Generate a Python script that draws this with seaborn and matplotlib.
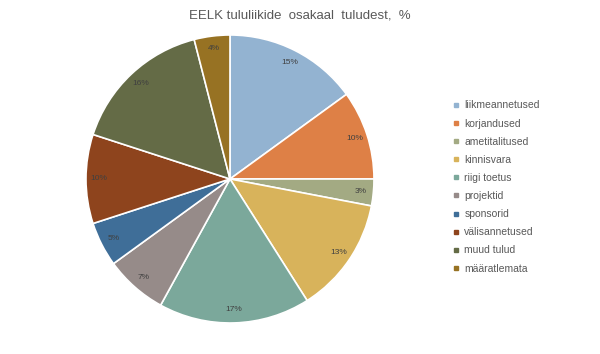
import matplotlib
matplotlib.use('Agg')
import matplotlib.pyplot as plt
from matplotlib.lines import Line2D
import seaborn as sns

# ── Andmed ──────────────────────────────────────────────────────────────────
liigid = ['liikmeannetused', 'korjandused', 'ametitalitused', 'kinnisvara',
          'riigi toetus', 'projektid', 'sponsorid', 'välisannetused',
          'muud tulud', 'määratlemata']
osakaal = [15, 10, 3, 13, 17, 7, 5, 10, 16, 4]
varvid = ['#93B3D1', '#DE8046', '#A3AA83', '#D8B35B', '#7BA89B',
          '#968B89', '#3F6E98', '#8E441D', '#646B46', '#977223']

sns.set_theme(style='white')
plt.rcParams['font.family'] = ['Liberation Sans', 'DejaVu Sans']
palett = sns.color_palette(varvid)

TEKST = '#595959'

fig = plt.figure(figsize=(6.0, 3.54), dpi=100)
fig.patch.set_facecolor('white')

ax = fig.add_axes([0.1433, 0.0876, 0.48, 0.8136])
wedges, texts, autotexts = ax.pie(
    osakaal, colors=palett, startangle=90, counterclock=False,
    autopct='%1.0f%%', pctdistance=0.91,
    wedgeprops=dict(edgecolor='white', linewidth=1.2))
for at in autotexts:
    at.set_fontsize(6); at.set_color('#404040')
ax.set_xlim(-1.0, 1.0); ax.set_ylim(-1.0, 1.0)
ax.set_aspect('equal')

fig.text(0.5, 0.955, 'EELK tululiikide  osakaal  tuludest,  %',
         ha='center', va='center', fontsize=9.5, color=TEKST)

handles = [Line2D([], [], marker='s', linestyle='none', markersize=3.2,
                  markerfacecolor=c, markeredgecolor=c) for c in palett]
fig.legend(handles, liigid, loc='upper left', bbox_to_anchor=(0.748, 0.728),
           frameon=False, fontsize=7.5, labelcolor=TEKST,
           handlelength=0.6, handletextpad=0.5, labelspacing=0.78,
           borderaxespad=0)

plt.savefig('out.png', dpi=100, facecolor='white')
plt.close()
